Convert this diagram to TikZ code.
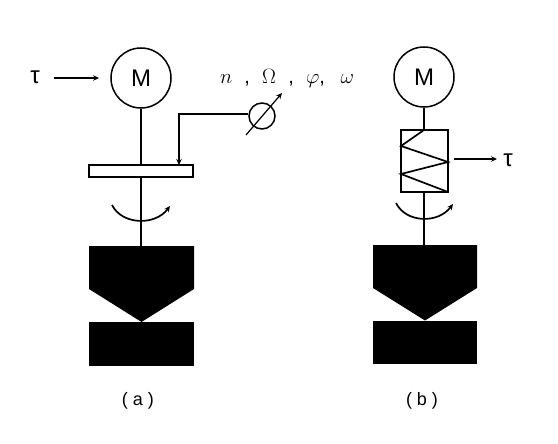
\documentclass[tikz,border=0pt]{standalone}
\usepackage{fontspec}
\setmainfont{Liberation Sans}
\usetikzlibrary{arrows.meta,calc}
\tikzset{
  shaftline/.style={draw=black,line width=1.7pt},
  thinline/.style={draw=black,line width=1.2pt},
  curveline/.style={draw=black,line width=1.7pt},
  headtip/.style={-{Stealth[length=6pt,width=5.5pt]}},
  motor/.style={circle,draw=black,line width=1.5pt,minimum size=60pt,inner sep=0pt,font=\fontsize{24}{26}\selectfont},
  sensor/.style={circle,draw=black,line width=1.5pt,minimum size=26pt,inner sep=0pt},
  lbl/.style={inner sep=0pt,font=\fontsize{24}{26}\selectfont},
  captext/.style={inner sep=0pt,font=\fontsize{18}{20}\selectfont},
  solidblack/.style={fill=black,draw=none}
}
\begin{document}
\begin{tikzpicture}[x=1pt,y=-1pt]
\useasboundingbox (0,0) rectangle (558,444);
% ---------- (a)
\node[motor] (Ma) at (141,78) {M};
\node[lbl] (ta) at (35,77) {τ};
\coordinate (ta0) at (54,78);
\coordinate (ta1) at (99,78);
\draw[thinline,headtip] (ta0) -- (ta1);
\node[draw=black,line width=1.5pt,minimum width=104pt,minimum height=12pt,inner sep=0pt] (plate) at (141,171) {};
\path[solidblack] (89,246) -- (194,246) -- (194,289) -- (141.5,322) -- (89,289) -- cycle;
\path[solidblack] (89,322) rectangle (194,366);
\coordinate (bodya) at (141,246);
\draw[shaftline] (Ma.south) -- (plate.north);
\draw[shaftline] (plate.south) -- (bodya);
\coordinate (ca0) at (112,205);
\coordinate (ca1) at (170,206);
\draw[curveline,headtip] (ca0) .. controls (122,225) and (155,226) .. (ca1);
\node[sensor] (S) at (262,116) {};
\coordinate (sa) at (246,135);
\coordinate (sb) at (282,93);
\draw[thinline,headtip] (sa) -- (sb);
\coordinate (bend) at (179,114);
\coordinate (pl) at (179,165);
\draw[thinline,headtip] (S.west |- bend) -- (bend) -- (pl);
\node[inner sep=0pt,font=\fontsize{20}{22}\selectfont] (vars) at (287,78) {$n$\,\, ,\,\, $\Omega$\,\, ,\,\, $\varphi$,\,\,\, $\omega$};
\node[captext] (capa) at (138,401) {( a )};
% ---------- (b)
\node[motor] (Mb) at (424,77) {M};
\node[draw=black,line width=1.4pt,minimum width=47pt,minimum height=62pt,inner sep=0pt] (spring) at (424.5,161) {};
\draw[shaftline] (424,130) -- (401,146) -- (448,162) -- (401,174) -- (448,192);
\path[solidblack] (373,245) -- (477,245) -- (477,288) -- (425,320.5) -- (373,288) -- cycle;
\path[solidblack] (373,320.5) rectangle (477,364);
\coordinate (bodyb) at (424,245);
\draw[shaftline] (Mb.south) -- (Mb.south |- spring.north);
\draw[shaftline] (Mb.south |- spring.south) -- (bodyb);
\node[lbl] (tb) at (508,160) {τ};
\coordinate (tb0) at (454,159);
\coordinate (tb1) at (497,159);
\draw[thinline,headtip] (tb0) -- (tb1);
\coordinate (cb0) at (396,203);
\coordinate (cb1) at (453,204);
\draw[curveline,headtip] (cb0) .. controls (406,223) and (438,224) .. (cb1);
\node[captext] (capb) at (422,401) {( b )};
\end{tikzpicture}
\end{document}
